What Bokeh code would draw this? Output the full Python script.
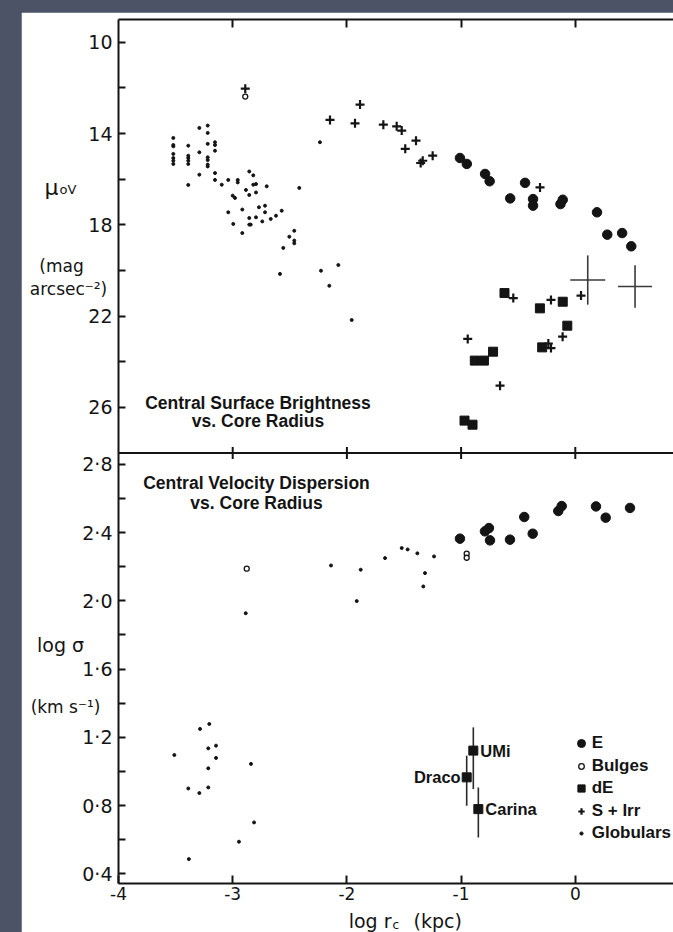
import numpy as np
from bokeh.plotting import figure
from bokeh.models import (ColumnDataSource, FixedTicker, Label, Legend, LegendItem,
                          LinearAxis, Range1d, Span)
from bokeh.layouts import column
from bokeh.embed import file_html
from bokeh.resources import INLINE
from bokeh.core.properties import value

# ---------------------------------------------------------------------------
# Upper panel: central surface brightness mu_0V (mag arcsec^-2) vs log r_c (kpc)
# ---------------------------------------------------------------------------
e_mu_x = [-1.01, -0.95, -0.79, -0.75, -0.44, -0.57, -0.37, -0.37, -0.13, -0.11,
          0.19, 0.28, 0.41, 0.49]
e_mu_y = [15.07, 15.33, 15.77, 16.09, 16.16, 16.84, 16.87, 17.16, 17.09, 16.90,
          17.45, 18.43, 18.36, 18.94]

bulge_mu_x = [-2.89]
bulge_mu_y = [12.38]

de_mu_x = [-0.62, -0.31, -0.11, -0.07, -0.29, -0.72, -0.88, -0.80, -0.97, -0.90]
de_mu_y = [20.99, 21.66, 21.37, 22.42, 23.37, 23.56, 23.95, 23.95, 26.58, 26.76]

sirr_mu_x = [-2.89, -1.885, -2.148, -1.929, -1.681, -1.564, -1.520, -1.395, -1.489,
             -1.336, -1.249, -1.354, -0.309,
             -0.543, -0.213, 0.050, -0.111, -0.942, -0.236, -0.213, -0.659]
sirr_mu_y = [12.03, 12.73, 13.40, 13.55, 13.61, 13.68, 13.87, 14.31, 14.67,
             15.19, 14.97, 15.29, 16.36,
             21.21, 21.29, 21.10, 22.90, 23.00, 23.20, 23.40, 25.05]

glob_mu_x = [-3.52, -3.52, -3.52, -3.52, -3.52, -3.52, -3.52,
             -3.389, -3.389, -3.389, -3.389, -3.389, -3.389,
             -3.292, -3.292, -3.292,
             -3.219, -3.219, -3.219, -3.219, -3.219, -3.219, -3.219,
             -3.155, -3.155, -3.155, -3.155, -3.155,
             -3.096, -3.039, -3.039, -2.995, -3.000, -2.980, -2.956, -2.956,
             -2.916, -2.916, -2.884, -2.855, -2.855, -2.855, -2.855, -2.842,
             -2.820, -2.820, -2.796, -2.796, -2.796, -2.770, -2.741, -2.717,
             -2.717, -2.702, -2.667, -2.621, -2.571, -2.557, -2.504, -2.461,
             -2.461, -2.461, -2.417, -2.586, -2.227, -2.154, -2.075, -2.236,
             -1.958]
glob_mu_y = [14.19, 14.50, 14.56, 14.89, 15.07, 15.19, 15.33,
             14.53, 14.97, 15.07, 15.19, 15.33, 16.25,
             13.75, 14.82, 15.80,
             13.65, 13.97, 14.45, 15.04, 15.16, 15.36, 15.44,
             14.38, 14.50, 14.75, 15.73, 16.03,
             16.24, 16.03, 17.45, 17.96, 16.72, 16.82, 16.03, 16.14,
             17.33, 18.36, 16.47, 15.66, 16.69, 17.70, 17.99, 17.99,
             15.83, 16.24, 16.21, 16.58, 17.67, 17.23, 17.85, 17.16,
             17.45, 16.31, 17.74, 17.60, 17.38, 19.01, 18.52, 18.26,
             18.69, 18.81, 16.38, 20.15, 20.01, 20.67, 19.76, 14.38,
             22.17]

# representative error crosses (centre, half-width in log r_c, half-height in mag)
err_x = [0.109, 0.523]
err_y = [20.42, 20.70]
err_dx = [0.153, 0.149]
err_dy = [1.08, 0.93]

# ---------------------------------------------------------------------------
# Lower panel: central velocity dispersion log sigma (km/s) vs log r_c (kpc)
# ---------------------------------------------------------------------------
e_sig_x = [-1.010, -0.791, -0.756, -0.572, -0.447, -0.373, -0.149, -0.119,
           0.181, 0.266, 0.479, -0.747]
e_sig_y = [2.364, 2.407, 2.426, 2.358, 2.491, 2.393, 2.526, 2.555,
           2.553, 2.487, 2.544, 2.354]

bulge_sig_x = [-2.877, -0.951, -0.951]
bulge_sig_y = [2.188, 2.276, 2.252]

dsph_names = ["UMi", "Draco", "Carina"]
dsph_x = [-0.893, -0.951, -0.849]
dsph_y = [1.122, 0.965, 0.779]
dsph_lo = [0.897, 0.799, 0.613]
dsph_hi = [1.258, 1.092, 0.906]

glob_sig_x = [-2.886, -2.139, -1.879, -1.914, -1.666, -1.520, -1.468, -1.383,
              -1.237, -1.316, -1.331,
              -3.286, -3.205, -3.214, -3.146, -3.146, -3.511, -3.214, -3.389,
              -3.292, -3.214, -2.840, -2.813, -2.945, -3.384]
glob_sig_y = [1.927, 2.207, 2.182, 1.998, 2.250, 2.309, 2.301, 2.278,
              2.260, 2.162, 2.084,
              1.249, 1.278, 1.135, 1.151, 1.079, 1.096, 1.018, 0.900,
              0.873, 0.906, 1.044, 0.701, 0.588, 0.486]

# axis ticks and labels
x_ticks = [-4, -3, -2, -1, 0]
x_tick_labels = ["-4", "-3", "-2", "-1", "0"]
mu_ticks = [10, 12, 14, 16, 18, 20, 22, 24, 26]
mu_tick_labels = ["10", "", "14", "", "18", "", "22", "", "26"]
sig_ticks = [0.4, 0.6, 0.8, 1.0, 1.2, 1.4, 1.6, 1.8, 2.0, 2.2, 2.4, 2.6, 2.8]
sig_tick_labels = ["0·4", "", "0·8", "", "1·2", "", "1·6", "", "2·0", "", "2·4", "", "2·8"]

legend_labels = ["E", "Bulges", "dE", "S + Irr", "Globulars"]

# ---------------------------------------------------------------------------
# layout
# ---------------------------------------------------------------------------
INK = "#141414"
BG = "#4c5366"
W, H = 652, 920
B_LEFT, B_RIGHT, B_TOP, B_BOTTOM = 97, 0, 7, 49
FRAME_W = W - B_LEFT - B_RIGHT
FRAME_H = H - B_TOP - B_BOTTOM

X_MIN = -4.0
PX_PER_DEX = 114.2
X_MAX = X_MIN + FRAME_W / PX_PER_DEX

# both panels share one frame: upper part in mu, lower part in log sigma
MU_TOP, MU_BOT = 9.0, 28.0
SIG_TOP, SIG_BOT = 2.866, 0.343
UPPER_PX = 433.5
mu_per_px = (MU_BOT - MU_TOP) / UPPER_PX
sig_per_px = (SIG_TOP - SIG_BOT) / (FRAME_H - UPPER_PX)
MU_FULL_BOT = MU_TOP + FRAME_H * mu_per_px
SIG_FULL_TOP = SIG_BOT + FRAME_H * sig_per_px


def sig_to_mu(s):
    """Position of a log-sigma value expressed on the mu scale of the frame."""
    return MU_TOP + (SIG_FULL_TOP - s) / sig_per_px * mu_per_px


p = figure(width=W, height=H,
           x_range=Range1d(X_MIN, X_MAX),
           y_range=Range1d(MU_FULL_BOT, MU_TOP),
           x_axis_location=None, y_axis_location=None,
           min_border_left=B_LEFT, min_border_right=B_RIGHT,
           min_border_top=B_TOP, min_border_bottom=B_BOTTOM,
           outline_line_color=None, background_fill_color="white",
           border_fill_color="white",
           output_backend="svg", toolbar_location=None)
p.grid.grid_line_color = None
p.extra_y_ranges = {"sig": Range1d(SIG_BOT, SIG_FULL_TOP)}

# left axis: mu ticks on top, log sigma ticks below, one continuous line
left_ticks = list(mu_ticks) + [sig_to_mu(s) for s in sig_ticks]
left_labels = list(mu_tick_labels) + list(sig_tick_labels)
yax = LinearAxis(ticker=FixedTicker(ticks=left_ticks, minor_ticks=[]),
                 major_label_overrides={t: l for t, l in zip(left_ticks, left_labels)},
                 major_tick_in=7, major_tick_out=0, minor_tick_line_color=None,
                 major_tick_line_width=2, major_tick_line_color=INK,
                 axis_line_width=2, axis_line_color=INK,
                 major_label_standoff=6,
                 major_label_text_font="DejaVu Sans",
                 major_label_text_font_size="19px",
                 major_label_text_color=INK)
p.add_layout(yax, "left")

xax = LinearAxis(ticker=FixedTicker(ticks=x_ticks, minor_ticks=[]),
                 major_label_overrides={t: l for t, l in zip(x_ticks, x_tick_labels)},
                 major_tick_in=8, major_tick_out=0, minor_tick_line_color=None,
                 major_tick_line_width=2, major_tick_line_color=INK,
                 axis_line_width=2, axis_line_color=INK,
                 major_label_standoff=3,
                 major_label_text_font="DejaVu Sans",
                 major_label_text_font_size="17px",
                 major_label_text_color=INK)
p.add_layout(xax, "below")

top_ticks = x_ticks[1:]
tax = LinearAxis(ticker=FixedTicker(ticks=top_ticks, minor_ticks=[]),
                 major_label_overrides={t: "" for t in top_ticks},
                 major_tick_in=8, major_tick_out=0, minor_tick_line_color=None,
                 major_tick_line_width=2, major_tick_line_color=INK,
                 axis_line_width=2, axis_line_color=INK,
                 major_label_standoff=0, major_label_text_font_size="0px")
p.add_layout(tax, "above")

# divider between the panels, ticks crossing it
p.add_layout(Span(location=MU_BOT, dimension="width", line_width=2, line_color=INK))
half_tick = 6 * mu_per_px
p.segment(x0=top_ticks, y0=[MU_BOT - half_tick] * len(top_ticks),
          x1=top_ticks, y1=[MU_BOT + half_tick] * len(top_ticks),
          line_width=2, line_color=INK)

# ---- upper panel marks ----
ex, ey = np.array(err_x), np.array(err_y)
edx, edy = np.array(err_dx), np.array(err_dy)
p.segment(x0=ex - edx, y0=ey, x1=ex + edx, y1=ey, line_width=1.6, line_color="#3a3a3a")
p.segment(x0=ex, y0=ey - edy, x1=ex, y1=ey + edy, line_width=1.6, line_color="#3a3a3a")

p.scatter(glob_mu_x, glob_mu_y, marker="circle", size=3, color=INK)
r_sirr = p.scatter(sirr_mu_x, sirr_mu_y, marker="cross", size=9, line_width=2.2,
                   line_color=INK)
p.scatter(bulge_mu_x, bulge_mu_y, marker="circle", size=5, line_width=1.3,
          line_color=INK, fill_color="white")
p.scatter(de_mu_x, de_mu_y, marker="square", size=9, color=INK)
p.scatter(e_mu_x, e_mu_y, marker="circle", size=9.5, color=INK)

# ---- lower panel marks ----
p.segment(x0=dsph_x, y0=dsph_lo, x1=dsph_x, y1=dsph_hi, y_range_name="sig",
          line_width=1.6, line_color="#2a2a2a")
r_glob = p.scatter(glob_sig_x, glob_sig_y, marker="circle", size=3, color=INK,
                   y_range_name="sig")
r_bulge = p.scatter(bulge_sig_x, bulge_sig_y, marker="circle", size=5, line_width=1.3,
                    line_color=INK, fill_color="white", y_range_name="sig")
r_de = p.scatter(dsph_x, dsph_y, marker="square", size=9, color=INK, y_range_name="sig")
r_e = p.scatter(e_sig_x, e_sig_y, marker="circle", size=9.5, color=INK,
                y_range_name="sig")

name_font = dict(text_font=value("Liberation Sans"), text_font_style="bold",
                 text_font_size="16.5px", text_color=INK, text_baseline="middle")
right_idx = [0, 2]
left_idx = [1]
src_r = ColumnDataSource(dict(x=[dsph_x[i] for i in right_idx],
                              y=[dsph_y[i] for i in right_idx],
                              t=[dsph_names[i] for i in right_idx]))
src_l = ColumnDataSource(dict(x=[dsph_x[i] for i in left_idx],
                              y=[dsph_y[i] for i in left_idx],
                              t=[dsph_names[i] for i in left_idx]))
p.text(x="x", y="y", text="t", source=src_r, x_offset=7, text_align="left",
       y_range_name="sig", **name_font)
p.text(x="x", y="y", text="t", source=src_l, x_offset=-6, text_align="right",
       y_range_name="sig", **name_font)

# ---- legend: one row per class, marker sizes set through the glyph box ----
legend_renderers = [r_e, r_bulge, r_de, r_sirr, r_glob]
glyph_w = [20, 14, 18, 16, 8]
row_centres = [140, 117.5, 95, 72.5, 50]
mark_cx, text_x = 462.7, 473.7
for lab, rend, gw, rc in zip(legend_labels, legend_renderers, glyph_w, row_centres):
    left = mark_cx - gw / 2
    p.add_layout(Legend(items=[LegendItem(label=lab, renderers=[rend])],
                        location=(left, rc - 10), glyph_width=gw, glyph_height=20,
                        label_height=20, label_standoff=int(round(text_x - left - gw)),
                        padding=0, margin=0, spacing=0,
                        border_line_color=None, background_fill_alpha=0,
                        label_text_font="Liberation Sans", label_text_font_style="bold",
                        label_text_font_size="17px", label_text_color=INK))

# ---- panel captions ----
cap = dict(x_units="screen", y_units="screen", text_align="center",
           text_baseline="middle", text_font="Liberation Sans",
           text_font_style="bold", text_font_size="17.5px", text_color=INK)
p.add_layout(Label(x=139.5, y=480.5, text="Central Surface Brightness", **cap))
p.add_layout(Label(x=139.5, y=462.3, text="vs. Core Radius", **cap))
p.add_layout(Label(x=138, y=400.3, text="Central Velocity Dispersion", **cap))
p.add_layout(Label(x=138, y=380.3, text="vs. Core Radius", **cap))


# ---- axis titles: text drawn in the border, offset from the axis lines ----
def border_text(txt, x, y, dx, dy, size, align, y_range="default"):
    p.text(x=[x], y=[y], text=[txt], x_offset=dx, y_offset=dy,
           text_font=value("DejaVu Sans"), text_font_size=size,
           text_color=INK, text_align=align, text_baseline="alphabetic",
           y_range_name=y_range, level="overlay")


border_text("μ", X_MIN, 16.37, -74, 0, "22px", "left")
border_text("oV", X_MIN, 16.45, -59, 0, "13px", "left")
border_text("(mag", X_MIN, 19.79, -57, 0, "17px", "center")
border_text("arcsec⁻²)", X_MIN, 20.80, -50, 0, "17px", "center")
border_text("log σ", X_MIN, 1.738, -58, 0, "19px", "center", "sig")
border_text("(km s⁻¹)", X_MIN, 1.38, -53, 0, "17px", "center", "sig")

border_text("log r", X_MIN, SIG_BOT, 273, 37, "19px", "right", "sig")
border_text("c", X_MIN, SIG_BOT, 274, 41, "12px", "left", "sig")
border_text("(kpc)", X_MIN, SIG_BOT, 295, 37, "19px", "left", "sig")

page = column(p, styles={"background-color": BG, "padding": "12px 0px 0px 21px"})

with open("out.html", "w") as f:
    f.write(file_html(page, INLINE))
